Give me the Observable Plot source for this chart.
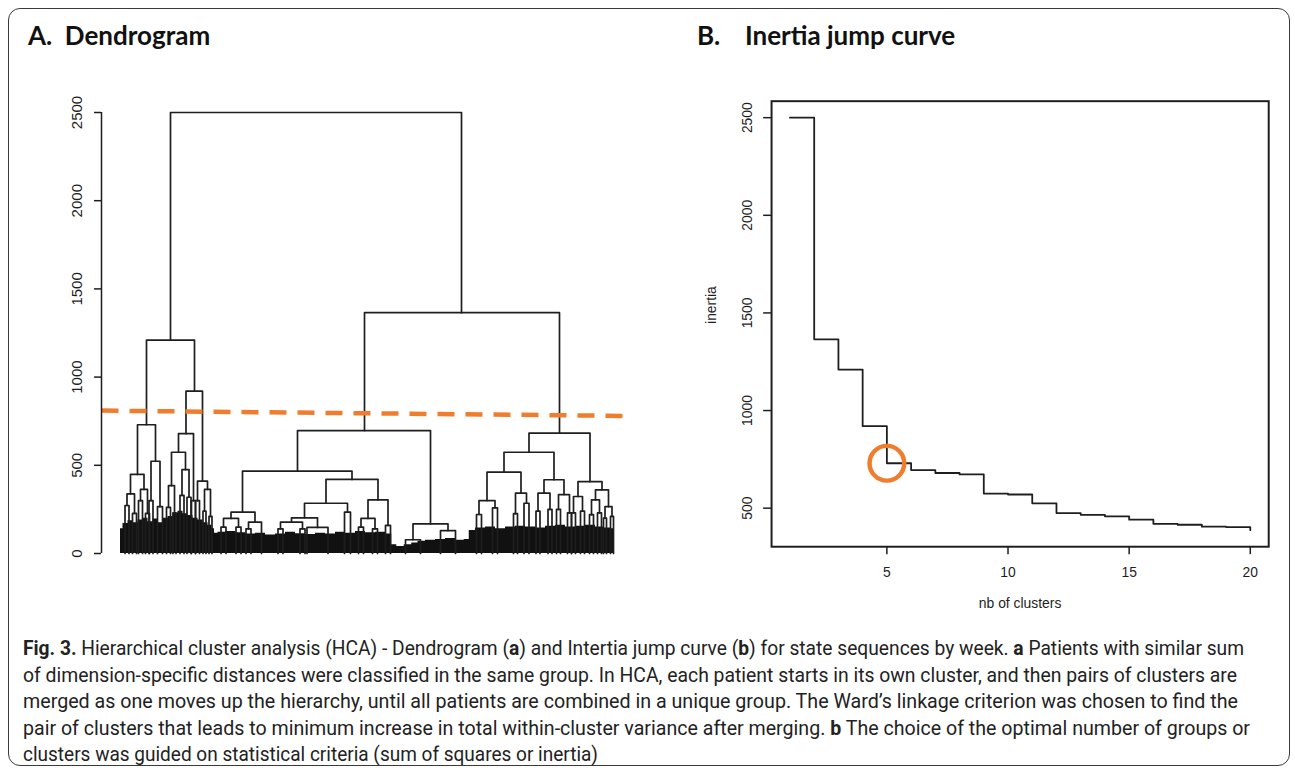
<!DOCTYPE html>
<html>
<head>
<meta charset="utf-8">
<script src="https://cdn.jsdelivr.net/npm/d3@7"></script>
<script src="https://cdn.jsdelivr.net/npm/@observablehq/plot@0.6"></script>
<style>
html, body { margin: 0; padding: 0; background: #fff; }
#fig { position: relative; width: 1295px; height: 772px; overflow: hidden; background: #fff; }
#border { position: absolute; left: 8px; top: 8px; width: 1282px; height: 758px; border: 1.6px solid #3a3a3a; border-radius: 12px; box-sizing: border-box; }
.title { position: absolute; top: 22px; font-family: Lato, "Open Sans", sans-serif; font-weight: 700; font-size: 26px; line-height: 26px; color: #111; white-space: nowrap; }
#panelA { position: absolute; left: 0; top: 60px; }
#panelB { position: absolute; left: 650px; top: 60px; }
#caption { position: absolute; left: 23px; top: 636px; font-family: Roboto, "Noto Sans", sans-serif; font-size: 19.5px; line-height: 26.5px; color: #222; }
.cap-line { display: block; white-space: nowrap; width: max-content; transform-origin: 0 0; }
.cap-line b { font-weight: 700; }
</style>
</head>
<body>
<div id="fig">
  <div id="border"></div>
  <div class="title" style="left:28px">A.&nbsp; Dendrogram</div>
  <div class="title" style="left:697px">B.</div>
  <div class="title" style="left:745px">Inertia jump curve</div>
  <div id="panelA"></div>
  <div id="panelB"></div>
  <div id="caption">
    <span class="cap-line"><b>Fig. 3.</b> Hierarchical cluster analysis (HCA) - Dendrogram (<b>a</b>) and Intertia jump curve (<b>b</b>) for state sequences by week. <b>a</b> Patients with similar sum</span>
    <span class="cap-line">of dimension-specific distances were classified in the same group. In HCA, each patient starts in its own cluster, and then pairs of clusters are</span>
    <span class="cap-line">merged as one moves up the hierarchy, until all patients are combined in a unique group. The Ward’s linkage criterion was chosen to find the</span>
    <span class="cap-line">pair of clusters that leads to minimum increase in total within-cluster variance after merging. <b>b</b> The choice of the optimal number of groups or</span>
    <span class="cap-line">clusters was guided on statistical criteria (sum of squares or inertia)</span>
  </div>
</div>
<script>
// ---------------- Panel A: dendrogram data (leaf order 0..988, merge heights) ----------------
const leafCount = 988;
const yTicksA = [0, 500, 1000, 1500, 2000, 2500];

// merges: left child position, right child position, merge height, left child height, right child height
const mergeLeft  = [100, 52, 34, 20, 13, 40, 61, 131, 116, 102, 96, 123, 154, 168,
  9, 24, 36, 50, 57, 74, 92, 105, 119, 133, 142, 150, 165, 177,
  488, 354, 244, 221, 206, 256, 411, 368, 342, 320, 373, 448, 495, 481, 585, 570, 640,
  201, 231, 251, 315, 359, 476, 504, 530,
  817, 767, 733, 717, 790, 847, 835, 876, 915, 950, 906, 942, 969,
  712, 744, 786, 807, 831, 855, 872, 894, 902, 920, 938, 954, 966, 980];
const mergeRight = [682, 148, 70, 47, 28, 54, 79, 164, 146, 130, 108, 137, 174, 180,
  17, 32, 44, 58, 65, 84, 100, 111, 127, 141, 150, 158, 171, 183,
  878, 620, 463, 269, 236, 282, 515, 454, 394, 364, 415, 460, 535, 509, 655, 600, 670,
  211, 241, 261, 325, 369, 486, 514, 540,
  939, 867, 801, 749, 812, 887, 859, 898, 963, 976, 924, 958, 983,
  722, 754, 794, 817, 839, 863, 880, 902, 910, 928, 946, 962, 972, 986];
const mergeHeight = [2500, 1210, 730, 448, 338, 363, 523, 920, 680, 574, 385, 476, 410, 363,
  272, 227, 300, 227, 300, 266, 262, 230, 329, 319, 300, 300, 240, 210,
  1365, 697, 467, 234, 199, 178, 420, 285, 202, 178, 148, 234, 304, 199, 168, 78, 130,
  150, 150, 140, 140, 140, 150, 140, 159,
  682, 574, 461, 300, 342, 418, 342, 334, 408, 361, 323, 304, 266,
  221, 259, 226, 285, 240, 250, 250, 230, 230, 240, 220, 230, 200, 210];
const leftHeight = [1210, 730, 448, 338, 272, 300, 300, 680, 574, 385, 262, 329, 300, 240,
  0, 0, 0, 0, 0, 0, 0, 0, 0, 0, 0, 0, 0, 0,
  697, 467, 234, 199, 150, 140, 285, 202, 178, 140, 0, 0, 199, 150, 78, 0, 0,
  0, 0, 0, 0, 0, 0, 0, 0,
  574, 461, 300, 221, 226, 342, 240, 250, 323, 304, 230, 220, 200,
  0, 0, 0, 0, 0, 0, 0, 0, 0, 0, 0, 0, 0, 0];
const rightHeight = [1365, 920, 523, 363, 227, 227, 266, 410, 300, 476, 230, 319, 363, 210,
  0, 0, 0, 0, 0, 0, 0, 0, 0, 0, 0, 0, 0, 0,
  682, 168, 420, 178, 150, 0, 304, 234, 148, 140, 0, 0, 159, 140, 130, 0, 0,
  0, 0, 0, 0, 0, 0, 0, 0,
  408, 418, 342, 259, 285, 334, 250, 230, 361, 266, 240, 230, 210,
  0, 0, 0, 0, 0, 0, 0, 0, 0, 0, 0, 0, 0, 0];

// top profile of the dense mass of low-level merges
const massPos = [0, 10, 20, 30, 40, 50, 60, 70, 80, 90, 100, 110, 120, 130, 140, 150, 160, 170, 180, 186,
  190, 200, 220, 240, 260, 280, 300, 320, 340, 360, 380, 400, 420, 440, 460, 480, 500, 520, 540,
  545, 560, 575, 590, 600, 620, 640, 660, 680, 695,
  700, 720, 740, 760, 780, 800, 820, 840, 860, 880, 900, 920, 940, 960, 975, 988];
const massTop = [140, 170, 185, 175, 190, 200, 180, 195, 175, 200, 210, 230, 240, 225, 215, 200, 190, 175, 160, 140,
  115, 120, 125, 118, 110, 115, 105, 110, 120, 112, 108, 115, 110, 120, 115, 125, 118, 120, 110,
  50, 40, 50, 60, 70, 75, 80, 85, 75, 80,
  130, 145, 150, 140, 150, 155, 150, 145, 155, 160, 150, 155, 160, 150, 145, 140];

// cut line (orange dashed)
const cutPos = [-38, 1008];
const cutHeight = [810, 780];

// ---------------- Panel B: inertia jump curve ----------------
const nbClusters = [1, 2, 3, 4, 5, 6, 7, 8, 9, 10, 11, 12, 13, 14, 15, 16, 17, 18, 19, 20];
const inertia = [2500, 1365, 1210, 920, 730, 695, 680, 673, 575, 570, 525, 475, 466, 458, 441, 420, 415, 405, 403, 387];
const chosenK = 5;
const xTicksB = [5, 10, 15, 20];
const yTicksB = [500, 1000, 1500, 2000, 2500];
const yLabelB = "inertia";
const xLabelB = "nb of clusters";

const ink = "#1e1e1e";
const orange = "#ef7d2d";
const rFont = "'Liberation Sans', Arial, Helvetica, sans-serif";

// build tables
const linkPts = mergeLeft.flatMap((xl, i) => [
  {i, x: xl, y: leftHeight[i]},
  {i, x: xl, y: mergeHeight[i]},
  {i, x: mergeRight[i], y: mergeHeight[i]},
  {i, x: mergeRight[i], y: rightHeight[i]}
]);
const massData = massPos.map((u, i) => ({u, h: massTop[i]}));
const cutData = cutPos.map((u, i) => ({u, h: cutHeight[i]}));
const curveData = nbClusters.map((k, i) => ({k, v: inertia[i]}));

const dendro = Plot.plot({
  width: 650, height: 540,
  marginLeft: 101, marginRight: 36, marginTop: 52, marginBottom: 47,
  x: {domain: [0, leafCount], range: [120, 614], axis: null},
  y: {domain: [0, 2500]},
  style: {background: "transparent", color: ink, fontFamily: rFont},
  marks: [
    Plot.areaY(massData, {x: "u", y: "h", curve: "step", fill: "#111"}),
    Plot.line(linkPts, {x: "x", y: "y", z: "i", stroke: ink, strokeWidth: 1.7}),
    Plot.line(cutData, {x: "u", y: "h", stroke: orange, strokeWidth: 4.5, strokeDasharray: "17 11", strokeLinecap: "butt"}),
    Plot.ruleX([0], {y1: yTicksA[0], y2: yTicksA[yTicksA.length - 1], dx: -19, stroke: ink, strokeWidth: 1.5}),
    Plot.axisY({ticks: yTicksA, tickSize: 7, tickPadding: 13, tickRotate: -90, fontSize: 15, label: null, strokeWidth: 1.5, tickFormat: d => String(d)})
  ]
});
document.getElementById("panelA").append(dendro);

const jump = Plot.plot({
  width: 650, height: 570,
  marginLeft: 122, marginRight: 27, marginTop: 41, marginBottom: 80,
  x: {domain: [0.24, 20.76]},
  y: {domain: [302.5, 2584.5]},
  style: {background: "transparent", color: ink, fontFamily: rFont},
  marks: [
    Plot.frame({stroke: ink, strokeWidth: 2}),
    Plot.axisX({ticks: xTicksB, tickSize: 8, tickPadding: 13, fontSize: 14, label: null, strokeWidth: 1.5, tickFormat: d => String(d)}),
    Plot.axisY({ticks: yTicksB, tickSize: 8, tickPadding: 12, tickRotate: -90, fontSize: 14, label: null, strokeWidth: 1.5, tickFormat: d => String(d)}),
    Plot.line(curveData, {x: "k", y: "v", curve: "step-after", stroke: ink, strokeWidth: 1.8}),
    Plot.dot([curveData[chosenK - 1]], {x: "k", y: "v", r: 17.5, stroke: orange, strokeWidth: 4.5, fill: "none"}),
    Plot.text([yLabelB], {text: d => d, frameAnchor: "left", rotate: -90, dx: -60, fontSize: 14}),
    Plot.text([xLabelB], {text: d => d, frameAnchor: "bottom", dy: 62, fontSize: 14})
  ]
});
document.getElementById("panelB").append(jump);

// fit caption lines to the measured line lengths of the original
const capWidths = [1221, 1214, 1215, 1227, 575];
function fitCaption() {
  document.querySelectorAll(".cap-line").forEach((el, i) => {
    el.style.transform = "none";
    const w = el.getBoundingClientRect().width;
    if (w > 0) el.style.transform = `scaleX(${capWidths[i] / w})`;
  });
}
fitCaption();
if (document.fonts && document.fonts.ready) document.fonts.ready.then(fitCaption);
</script>
</body>
</html>
